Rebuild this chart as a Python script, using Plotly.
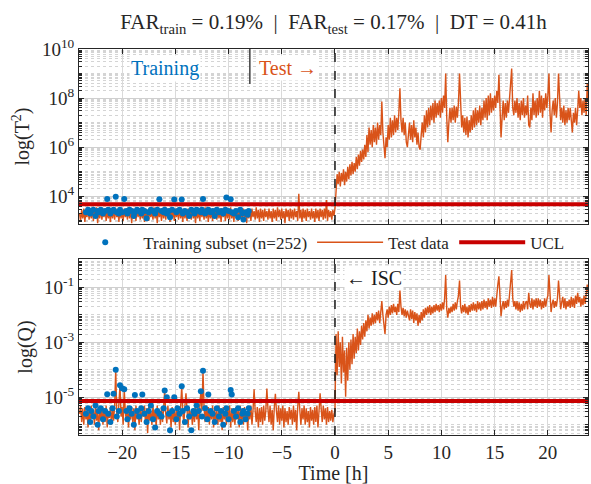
import numpy as np
import plotly.graph_objects as go

# ---------------- data (log10 values, 0.1 h steps) ----------------
time_h = np.round(np.arange(-24.0, 24.0001, 0.1), 1)

# log10(T^2), t = -24.0 ... -0.1 (one row per hour)
t2_pre = [
    3.3, 3.0, 3.45, 3.1, 3.5, 2.95, 3.4, 3.15, 3.5, 3.05,
    3.45, 3.1, 3.5, 3.0, 3.4, 3.15, 3.55, 2.9, 3.45, 3.1,
    3.5, 3.05, 3.4, 3.15, 3.5, 3.0, 3.45, 3.1, 3.35, 2.95,
    3.5, 3.1, 3.45, 3.05, 3.5, 3.15, 3.4, 2.95, 3.5, 3.1,
    3.45, 3.0, 3.5, 3.15, 3.4, 3.05, 3.55, 3.1, 3.45, 2.9,
    3.5, 3.1, 3.4, 3.0, 3.5, 3.15, 3.45, 3.05, 3.5, 3.1,
    3.4, 2.95, 3.5, 3.1, 3.45, 3.0, 3.5, 3.15, 3.4, 3.05,
    3.55, 3.1, 3.45, 2.9, 3.5, 3.15, 3.4, 3.0, 3.5, 3.1,
    3.45, 3.05, 3.5, 3.15, 3.4, 2.95, 3.5, 3.1, 3.45, 3.0,
    3.5, 3.15, 3.4, 3.05, 3.55, 3.1, 3.45, 2.95, 3.5, 3.1,
    3.4, 3.0, 3.5, 3.15, 3.45, 3.05, 3.5, 3.1, 3.4, 2.9,
    3.5, 3.1, 3.45, 3.0, 3.5, 3.15, 3.4, 3.05, 3.55, 3.1,
    3.45, 2.95, 3.5, 3.1, 3.4, 3.0, 3.5, 3.15, 3.45, 3.05,
    3.5, 3.1, 3.4, 2.95, 3.5, 3.15, 3.45, 3.0, 3.5, 3.1,
    3.45, 3.05, 3.55, 3.1, 3.4, 2.95, 3.5, 3.15, 3.45, 3.0,
    3.5, 3.1, 3.4, 3.05, 3.5, 3.15, 3.45, 2.9, 3.5, 3.1,
    3.45, 3.0, 3.5, 3.15, 3.4, 3.05, 3.55, 3.1, 3.45, 2.95,
    3.5, 3.1, 3.45, 3.0, 3.5, 3.15, 3.4, 3.05, 3.5, 3.1,
    3.4, 2.95, 3.5, 3.1, 3.45, 3.0, 3.55, 3.15, 3.45, 3.05,
    3.5, 3.1, 3.4, 2.9, 3.5, 3.15, 3.45, 3.0, 3.5, 3.1,
    3.45, 3.05, 3.5, 3.15, 3.4, 3.0, 4.1, 3.1, 3.45, 2.95,
    3.5, 3.1, 3.45, 3.0, 3.5, 3.15, 3.4, 3.05, 3.5, 3.1,
    3.4, 2.95, 3.5, 3.1, 3.45, 3.0, 3.5, 3.15, 3.45, 3.05,
    3.5, 3.1, 3.85, 3.0, 3.45, 3.15, 3.4, 3.05, 3.45, 3.2,
]
# log10(T^2), t = 0.0 ... 24.0
t2_post = [
    3.5, 4.3, 4.9, 4.5, 5.0, 4.4, 4.95, 4.6, 5.1, 4.45,
    5.0, 4.6, 5.2, 4.7, 5.3, 4.85, 5.4, 4.9, 5.35, 5.0,
    5.6, 5.1, 5.7, 5.25, 5.85, 5.4, 5.9, 5.5, 6.1, 5.6,
    6.5, 5.8, 6.8, 6.1, 6.7, 6.0, 6.9, 6.2, 6.8, 6.1,
    7.0, 6.3, 6.9, 6.5, 7.86, 6.6, 6.2, 5.55, 6.4, 6.0,
    6.9, 6.3, 7.2, 6.4, 7.1, 6.5, 7.3, 6.6, 7.2, 6.7,
    7.4, 8.4, 7.1, 6.6, 7.2, 6.5, 7.0, 6.2, 6.0, 6.5,
    7.0, 6.3, 6.9, 6.2, 7.1, 6.4, 6.8, 6.1, 6.6, 6.0,
    5.9, 6.5, 7.0, 6.4, 7.3, 6.6, 7.5, 6.8, 7.6, 6.9,
    7.7, 7.1, 7.8, 7.0, 7.9, 7.2, 7.8, 7.3, 7.9, 7.2,
    8.0, 7.4, 8.1, 7.6, 9.0, 7.2, 6.2, 7.0, 7.6, 7.0,
    7.6, 7.1, 7.7, 7.0, 7.65, 7.2, 7.8, 9.0, 7.4, 6.8,
    7.3, 6.6, 7.2, 6.5, 7.25, 6.4, 7.1, 6.6, 7.3, 6.7,
    7.5, 6.8, 7.6, 6.9, 7.5, 7.0, 7.7, 6.9, 7.6, 7.1,
    7.9, 7.2, 8.0, 7.1, 8.1, 7.3, 8.2, 7.4, 8.0, 7.5,
    8.1, 7.6, 8.3, 7.8, 8.95, 7.2, 6.4, 7.2, 7.9, 7.1,
    7.8, 7.2, 7.9, 7.4, 8.2, 8.6, 9.2, 7.6, 7.3, 7.9,
    7.4, 8.0, 7.2, 7.8, 7.1, 7.9, 7.3, 8.0, 7.2, 7.7,
    7.3, 8.1, 6.9, 6.8, 7.6, 7.1, 8.2, 7.3, 7.9, 7.2,
    8.0, 7.3, 8.3, 7.4, 8.1, 7.2, 8.0, 7.5, 8.2, 7.6,
    8.1, 9.0, 7.4, 6.6, 7.5, 7.9, 7.3, 8.0, 7.2, 7.8,
    9.0, 7.6, 7.1, 7.6, 7.0, 7.7, 6.9, 7.5, 7.0, 7.6,
    7.1, 7.6, 6.9, 6.6, 7.4, 7.0, 7.6, 6.9, 7.5, 8.3,
    7.6, 8.0, 7.3, 7.9, 7.4, 8.0, 7.3, 8.6, 7.9, 9.0,
    9.0,
]
# log10(Q), t = -24.0 ... -0.1
q_pre = [
    -5.6, -5.3, -5.9, -5.4, -6.0, -5.35, -5.8, -5.5, -6.1, -5.4,
    -5.9, -5.3, -5.7, -5.45, -6.0, -5.3, -5.85, -5.5, -6.2, -5.4,
    -5.8, -5.35, -6.0, -5.45, -5.9, -5.3, -6.1, -5.5, -5.75, -5.35,
    -6.0, -5.4, -5.85, -5.3, -4.0, -5.6, -5.9, -5.4, -4.56, -5.7,
    -5.35, -6.0, -4.71, -5.5, -5.9, -5.3, -6.1, -5.45, -5.8, -5.35,
    -5.9, -5.4, -6.2, -5.3, -5.8, -5.5, -6.0, -5.35, -5.9, -5.45,
    -5.7, -5.3, -6.0, -5.4, -6.3, -5.35, -5.85, -5.5, -6.0, -5.3,
    -5.9, -5.45, -6.1, -5.3, -5.8, -5.5, -6.0, -5.35, -5.9, -5.4,
    -4.75, -5.6, -5.95, -5.3, -5.8, -5.45, -6.1, -5.35, -5.9, -5.5,
    -6.0, -5.3, -5.85, -5.4, -6.2, -5.35, -4.6, -5.5, -6.0, -5.3,
    -4.85, -5.45, -6.1, -5.35, -5.8, -5.5, -6.0, -5.4, -5.9, -5.3,
    -5.8, -5.4, -6.2, -5.35, -4.78, -5.5, -4.03, -5.4, -5.9, -5.3,
    -5.9, -5.35, -6.0, -5.45, -5.8, -5.3, -6.1, -5.4, -5.85, -5.5,
    -6.0, -5.3, -5.9, -5.45, -6.2, -5.35, -5.8, -5.5, -6.0, -5.4,
    -5.85, -5.3, -6.1, -5.4, -5.9, -5.5, -6.0, -5.35, -5.8, -5.45,
    -6.1, -5.3, -5.9, -5.4, -6.0, -5.35, -5.85, -5.5, -6.2, -5.4,
    -5.8, -5.3, -6.0, -5.45, -4.71, -5.5, -5.9, -5.35, -6.1, -5.4,
    -5.9, -5.35, -6.0, -5.3, -5.85, -5.5, -4.68, -5.4, -5.9, -5.3,
    -6.0, -5.45, -6.2, -5.35, -4.87, -5.5, -5.9, -5.3, -6.0, -5.4,
    -5.85, -5.3, -6.1, -5.4, -5.9, -5.5, -6.0, -5.35, -5.8, -5.45,
    -6.0, -5.3, -5.9, -5.45, -6.2, -5.35, -4.8, -5.5, -6.0, -5.4,
    -5.8, -5.3, -6.0, -5.4, -5.9, -5.5, -6.1, -5.35, -5.85, -5.45,
    -6.0, -5.35, -5.9, -5.3, -6.1, -5.5, -4.85, -5.4, -5.9, -5.3,
    -5.8, -5.4, -6.0, -5.35, -5.9, -5.5, -5.85, -5.45, -5.9, -5.6,
]
# log10(Q), t = 0.0 ... 24.0
q_post = [
    -5.5, -2.7, -4.2, -2.6, -3.9, -3.0, -4.5, -2.8, -4.1, -3.3,
    -4.98, -3.2, -4.4, -3.0, -4.0, -2.9, -3.8, -2.7, -3.6, -2.8,
    -3.4, -2.5, -3.3, -2.6, -3.1, -2.4, -2.9, -2.3, -2.8, -2.2,
    -2.6, -2.0, -2.5, -2.1, -2.4, -1.95, -2.35, -2.0, -2.3, -1.9,
    -2.2, -1.85, -2.3, -1.9, -1.5, -2.0, -2.3, -2.7, -2.0, -1.8,
    -2.1, -1.7, -2.0, -1.65, -1.95, -1.6, -1.9, -1.7, -2.0, -1.6,
    -1.9, -1.1, -1.7, -2.0, -1.75, -2.05, -1.8, -2.1, -1.85, -2.0,
    -2.2, -1.8, -2.15, -1.85, -2.3, -1.9, -2.2, -1.95, -2.4, -2.0,
    -2.3, -1.9, -2.2, -1.8, -2.1, -1.75, -2.0, -1.7, -1.95, -1.65,
    -2.0, -1.7, -1.95, -1.65, -1.9, -1.6, -1.85, -1.65, -1.9, -1.6,
    -1.85, -1.55, -1.8, -1.4, -0.55, -1.8, -2.1, -1.75, -1.95, -1.7,
    -1.9, -1.6, -1.85, -1.55, -1.8, -1.5, -1.3, -0.75, -1.7, -1.95,
    -1.65, -1.9, -1.6, -1.95, -1.7, -2.0, -1.65, -1.9, -1.6, -1.85,
    -1.55, -1.85, -1.6, -1.9, -1.5, -1.8, -1.55, -1.85, -1.5, -1.8,
    -1.45, -1.75, -1.5, -1.8, -1.4, -1.7, -1.45, -1.75, -1.35, -1.7,
    -1.4, -1.7, -1.2, -0.9, -0.6, -1.6, -2.05, -1.7, -1.5, -1.8,
    -1.5, -1.75, -1.45, -1.7, -1.3, -0.9, -0.37, -1.4, -1.7, -1.5,
    -1.8, -1.5, -1.85, -1.55, -1.9, -1.6, -1.85, -1.5, -1.8, -1.55,
    -1.5, -1.8, -1.2, -1.6, -1.75, -1.4, -1.8, -1.45, -1.7, -1.4,
    -1.75, -1.4, -1.7, -1.45, -1.8, -1.5, -1.75, -1.4, -1.7, -1.45,
    -1.3, -0.55, -1.5, -1.9, -1.6, -1.45, -1.75, -1.5, -1.7, -1.4,
    -0.75, -1.5, -1.8, -1.55, -1.35, -1.75, -1.4, -1.8, -1.5, -1.7,
    -1.45, -1.75, -1.35, -1.7, -1.4, -1.75, -1.3, -1.6, -1.2, -1.55,
    -1.35, -1.7, -1.4, -1.65, -1.3, -1.6, -1.25, -0.9, -1.2, -0.6,
    -0.55,
]

train_time = [
    -23.4, -23.2, -23.0, -22.9, -22.7, -22.5, -22.3, -22.2, -22.0, -21.8,
    -21.6, -21.4, -21.3, -21.1, -20.9, -20.8, -20.6, -20.5, -20.3, -20.2,
    -20.0, -19.8, -19.6, -19.5, -19.3, -19.1, -18.9, -18.8, -18.6, -18.4,
    -18.2, -18.1, -17.9, -17.7, -17.5, -17.3, -17.1, -16.9, -16.7, -16.5,
    -16.3, -16.1, -16.0, -15.8, -15.6, -15.5, -15.3, -15.1, -14.9, -14.8,
    -14.6, -14.4, -14.3, -14.1, -13.9, -13.7, -13.5, -13.3, -13.2, -13.0,
    -12.8, -12.6, -12.5, -12.4, -12.2, -12.0, -11.9, -11.7, -11.5, -11.3,
    -11.1, -10.9, -10.7, -10.5, -10.3, -10.2, -10.0, -9.8, -9.7, -9.5,
    -9.3, -9.1, -8.9, -8.7, -8.6, -8.4, -8.2, -8.1,
]
train_t2 = [
    3.35, 3.45, 3.3, 3.4, 3.45, 3.2, 3.4, 3.35, 3.45, 3.3,
    3.4, 3.89, 3.45, 3.3, 3.4, 3.45, 3.98, 3.35, 3.3, 3.45,
    3.35, 3.89, 3.4, 3.3, 3.45, 3.4, 3.2, 3.35, 3.45, 3.4,
    3.3, 3.45, 3.4, 3.1, 3.35, 3.45, 3.4, 3.3, 3.45, 3.88,
    3.4, 3.35, 3.45, 3.3, 3.4, 3.15, 3.45, 3.87, 3.35, 3.4,
    3.45, 3.87, 3.3, 3.4, 3.35, 3.2, 3.45, 3.4, 3.3, 3.45,
    3.4, 3.35, 3.45, 3.89, 3.3, 3.4, 3.45, 3.35, 3.4, 3.2,
    3.45, 3.35, 3.4, 3.3, 3.45, 3.95, 3.4, 3.88, 3.35, 3.3,
    3.4, 3.15, 3.45, 3.3, 3.05, 3.35, 3.25, 3.4,
]
train_q = [
    -5.6, -5.4, -5.9, -5.5, -5.7, -5.3, -6.0, -5.5, -5.4, -5.8,
    -5.5, -4.89, -5.6, -5.9, -5.4, -4.87, -4.0, -5.7, -5.5, -4.56,
    -4.67, -4.71, -5.5, -5.8, -5.4, -5.6, -6.0, -4.92, -5.5, -5.7,
    -5.4, -4.9, -5.6, -5.9, -5.5, -5.3, -5.8, -6.1, -5.5, -5.6,
    -5.7, -5.4, -4.75, -5.0, -5.6, -6.2, -5.5, -5.0, -5.8, -5.4,
    -5.6, -4.6, -5.5, -5.9, -5.4, -5.7, -6.2, -5.5, -5.6, -5.3,
    -5.5, -4.78, -5.7, -4.03, -5.4, -5.8, -4.9, -5.5, -5.6, -5.9,
    -5.4, -5.7, -5.5, -6.0, -5.6, -5.4, -5.8, -4.73, -4.9, -5.5,
    -5.7, -5.4, -5.9, -5.6, -5.5, -5.8, -5.6, -5.4,
]

ucl_t2 = 4680.0
ucl_q = 7.4e-6

x_ticks = [-20, -15, -10, -5, 0, 5, 10, 15, 20]
t2_ticks = [1e4, 1e6, 1e8, 1e10]
t2_ticktext = ["10<sup>4</sup>", "10<sup>6</sup>", "10<sup>8</sup>", "10<sup>10</sup>"]
q_ticks = [1e-5, 1e-3, 1e-1]
q_ticktext = ["10<sup>-5</sup>", "10<sup>-3</sup>", "10<sup>-1</sup>"]

# ---------------- styling ----------------
ORANGE = "#D95319"
BLUE = "#0072BD"
RED = "#C80000"
FONT = "Liberation Serif, Times New Roman, Times, DejaVu Serif, serif"
AX = "#262626"

t2_all = 10 ** np.array(t2_pre + t2_post)
q_all = 10 ** np.array(q_pre + q_post)

fig = go.Figure()
fig.add_trace(go.Scatter(x=time_h, y=t2_all, mode="lines", line=dict(color=ORANGE, width=1.4),
                         name="Test data", legendrank=2, xaxis="x", yaxis="y"))
fig.add_trace(go.Scatter(x=time_h, y=q_all, mode="lines", line=dict(color=ORANGE, width=1.4),
                         name="Test data", showlegend=False, xaxis="x2", yaxis="y2"))
fig.add_trace(go.Scatter(x=train_time, y=10 ** np.array(train_t2), mode="markers",
                         marker=dict(color=BLUE, size=6), name="Training subset (n=252)",
                         legendrank=1, xaxis="x", yaxis="y"))
fig.add_trace(go.Scatter(x=train_time, y=10 ** np.array(train_q), mode="markers",
                         marker=dict(color=BLUE, size=6), name="Training subset (n=252)",
                         showlegend=False, xaxis="x2", yaxis="y2"))
fig.add_trace(go.Scatter(x=[-30, 30], y=[ucl_t2, ucl_t2], mode="lines", line=dict(color=RED, width=4),
                         name="UCL", legendrank=3, xaxis="x", yaxis="y"))
fig.add_trace(go.Scatter(x=[-30, 30], y=[ucl_q, ucl_q], mode="lines", line=dict(color=RED, width=4),
                         name="UCL", showlegend=False, xaxis="x2", yaxis="y2"))


def minor_vals(lo, hi, majors):
    vals = []
    for e in range(lo, hi + 1):
        for k in range(1, 10):
            v = k * 10.0 ** e
            if not any(abs(v - m) / m < 1e-9 for m in majors):
                vals.append(v)
    return vals


xcommon = dict(range=[-24.05, 23.77], tickmode="array", tickvals=x_ticks, ticks="inside", ticklen=5,
               tickcolor=AX, mirror="ticks", showline=True, linecolor=AX, linewidth=1,
               showgrid=True, gridcolor="#dadada", gridwidth=1, zeroline=False,
               tickfont=dict(family=FONT, size=19, color=AX))
ycommon = dict(type="log", ticks="inside", ticklen=5, tickcolor=AX, mirror="ticks", showline=True,
               linecolor=AX, linewidth=1, showgrid=True, gridcolor="#cfcfcf", gridwidth=1,
               zeroline=False, tickmode="array", tickfont=dict(family=FONT, size=19, color=AX))

fig.update_layout(
    width=591, height=484,
    margin=dict(l=79, r=3, t=49, b=49),
    paper_bgcolor="white", plot_bgcolor="white",
    font=dict(family=FONT, color=AX),
    title=dict(text="FAR<sub>train</sub> = 0.19%  |  FAR<sub>test</sub> = 0.17%  |  DT = 0.41h",
               x=0.5, xref="paper", xanchor="center", y=1 - 22 / 484, yref="container",
               yanchor="middle", font=dict(family=FONT, size=21, color=AX)),
    xaxis=dict(**xcommon, domain=[0, 1], anchor="y", showticklabels=False),
    yaxis=dict(**ycommon, domain=[0.5466, 1], anchor="x", range=[2.87, 10],
               tickvals=t2_ticks, ticktext=t2_ticktext,
               title=dict(text="log(T<sup>2</sup>)", font=dict(family=FONT, size=20, color=AX), standoff=6),
               minor=dict(tickmode="array", tickvals=minor_vals(2, 10, t2_ticks), showgrid=True,
                          gridcolor="#d4d4d4", griddash="dot", ticks="inside", ticklen=3, tickcolor=AX)),
    xaxis2=dict(**xcommon, domain=[0, 1], anchor="y2",
                title=dict(text="Time [h]", font=dict(family=FONT, size=20, color=AX), standoff=2)),
    yaxis2=dict(**ycommon, domain=[0, 0.456], anchor="x2", range=[-6.37, 0.03],
                tickvals=q_ticks, ticktext=q_ticktext,
                title=dict(text="log(Q)", font=dict(family=FONT, size=20, color=AX), standoff=6),
                minor=dict(tickmode="array", tickvals=minor_vals(-7, 0, q_ticks), showgrid=True,
                           gridcolor="#d4d4d4", griddash="dot", ticks="inside", ticklen=3, tickcolor=AX)),
    legend=dict(orientation="h", x=0.47, xanchor="center", y=0.498, yanchor="middle",
                font=dict(family=FONT, size=17, color=AX), bgcolor="rgba(255,255,255,0)",
                itemwidth=66, traceorder="normal", tracegroupgap=0, borderwidth=0),
    shapes=[
        dict(type="line", xref="x", yref="y domain", x0=0, x1=0, y0=0, y1=1,
             line=dict(color="#1a1a1a", width=1.5, dash="dash")),
        dict(type="line", xref="x2", yref="y2 domain", x0=0, x1=0, y0=0, y1=1,
             line=dict(color="#1a1a1a", width=1.5, dash="dash")),
        dict(type="line", xref="x", yref="y domain", x0=-8, x1=-8, y0=0.8, y1=1,
             line=dict(color="#404040", width=1.5)),
    ],
    annotations=[
        dict(text="Training", xref="x", yref="y domain", x=-16.0, y=0.89, xanchor="center",
             yanchor="middle", showarrow=False,
             font=dict(family=FONT, size=20, color=BLUE), bgcolor="white", borderpad=1),
        dict(text="Test \u2192", xref="x", yref="y domain", x=-4.4, y=0.89, xanchor="center",
             yanchor="middle", showarrow=False,
             font=dict(family=FONT, size=20, color=ORANGE), bgcolor="white", borderpad=1),
        dict(text="\u2190 ISC", xref="x2", yref="y2 domain", x=3.7, y=0.89, xanchor="center",
             yanchor="middle", showarrow=False,
             font=dict(family=FONT, size=20, color="#1a1a1a"), bgcolor="white", borderpad=1),
    ],
)

fig.write_html("out.html")
